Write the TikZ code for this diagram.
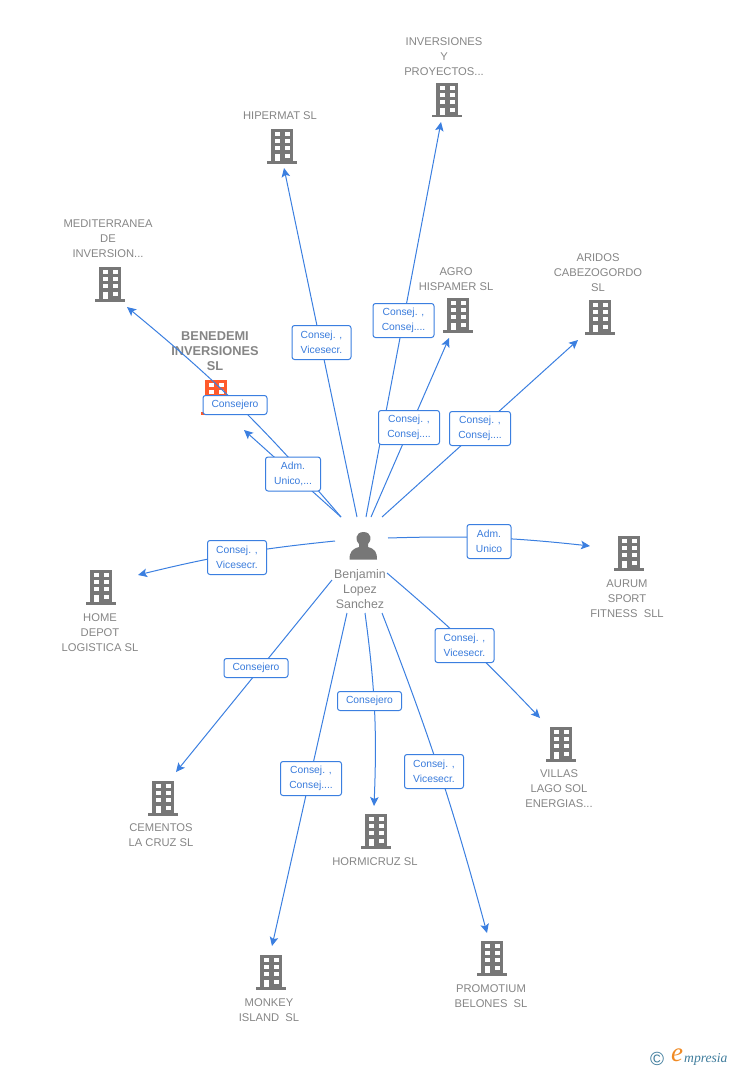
\documentclass[tikz,border=0pt]{standalone}
\usepackage{fontspec}
\setmainfont{Liberation Sans}
\newfontfamily\logofont{Liberation Serif}
\usetikzlibrary{arrows.meta}
\definecolor{linkblue}{HTML}{3B7FE0}
\definecolor{textblue}{HTML}{3A7CDC}
\definecolor{icongray}{HTML}{777777}
\definecolor{labelgray}{HTML}{858585}
\definecolor{benedemi}{HTML}{FF5A2B}
\definecolor{logoorange}{HTML}{F08A24}
\definecolor{logoblue}{HTML}{3F7C9C}
\newcommand{\threedots}{...}
\tikzstyle{edge} = [draw=linkblue,line width=1pt,-{Stealth[length=9pt,width=8.5pt,inset=2pt]}]
\tikzstyle{weight} = [draw=linkblue,fill=white,line width=1pt,rounded corners=2.5pt,align=center,text=textblue,font=\fontsize{10.3}{15}\selectfont,inner sep=0pt,minimum height=34pt]
\tikzstyle{company} = [align=center,text=labelgray,font=\fontsize{11.2}{15}\selectfont,inner sep=0pt]
\tikzset{building/.pic={
    \fill (-11,-17) rectangle (11,15);
    \fill (-15,15) rectangle (15,17.5);
    \foreach \wy in {-14,-7,0}
        \foreach \wx in {-7,3}
            \fill[white] (\wx,\wy) rectangle +(5.3,4);
    \fill[white] (-7,8) rectangle (-1.7,15);
    \fill[white] (3,8) rectangle (8.3,12);
}}

\begin{document}
\begin{tikzpicture}[x=1pt,y=-1pt]
    \useasboundingbox (0,0) rectangle (728,1070);

    % First we draw the buildings
    \foreach \pos/\name in {{(446.5,100)/inversiones}, {(282,146)/hipermat}, {(110,284)/mediterranea}, {(458,315)/agro}, {(600,317)/aridos}, {(629,553)/aurum}, {(101,587)/home}, {(163,798)/cementos}, {(376,831)/hormicruz}, {(271,972)/monkey}, {(492,958)/promotium}, {(561,744)/villas}}
        \path \pos pic[icongray] (\name) {building};
    \path (216,397) pic[benedemi] (benedemiicon) {building};

    % Then the names
    \foreach \pos/\name/\label in {{(444,56.3)/inversionestext/INVERSIONES\\Y\\PROYECTOS\threedots}, {(280,115.8)/hipermattext/HIPERMAT SL}, {(108,238.8)/mediterraneatext/MEDITERRANEA\\DE\\INVERSION\threedots}, {(456,278.8)/agrotext/AGRO\\HISPAMER SL}, {(598,272.8)/aridostext/ARIDOS\\CABEZOGORDO\\SL}, {(627,598.8)/aurumtext/AURUM\\SPORT\\FITNESS\ \ SLL}, {(100,632.8)/hometext/HOME\\DEPOT\\LOGISTICA SL}, {(161,835.3)/cementostext/CEMENTOS\\LA CRUZ SL}, {(375,861.8)/hormicruztext/HORMICRUZ SL}, {(269,1010.3)/monkeytext/MONKEY\\ISLAND\ \ SL}, {(491,996.3)/promotiumtext/PROMOTIUM\\BELONES\ \ SL}, {(559,788.8)/villastext/VILLAS\\LAGO SOL\\ENERGIAS\threedots}}
        \node[company] (\name) at \pos {\label};
    \node[company,font=\fontsize{12.8}{15}\selectfont\bfseries] (benedemitext) at (215,351.5) {BENEDEMI\\INVERSIONES\\SL};
    \node[company,font=\fontsize{12.4}{15}\selectfont] (benjamin) at (360,589.5) {Benjamin\\Lopez\\Sanchez};

    % The person
    \fill[icongray] (349.5,559.5) .. controls (349.5,552) and (352,549) .. (359,547) -- (359,544) .. controls (355,541) and (355,532) .. (363.5,532) .. controls (372,532) and (372,541) .. (368,544) -- (368,547) .. controls (375,549) and (377,552) .. (377,559.5) -- cycle;

    % Free ends of the links
    \foreach \pos/\name in {{(366,517)/s1}, {(441,122)/t1}, {(357,517)/s2}, {(284,168)/t2}, {(371,517)/s3}, {(449,338)/t3}, {(382,517)/s4}, {(578,340)/t4}, {(388,538)/s5}, {(590,546)/t5}, {(387,573)/s6}, {(540,718)/t6}, {(382,613)/s7}, {(487,933)/t7}, {(365,613)/s8}, {(374,806)/t8}, {(347,613)/s9}, {(272,946)/t9}, {(332,580)/s10}, {(176,772)/t10}, {(335,541)/s11}, {(138,575)/t11}, {(341,517)/s12}, {(244,430)/t12}, {(341,517)/s13}, {(127,307)/t13}}
        \path \pos coordinate (\name);

    % Connect them
    \foreach \source/\dest/\bend in {s1/t1/0, s2/t2/0, s3/t3/0, s4/t4/0, s5/t5/4, s6/t6/3, s7/t7/3, s8/t8/5, s9/t9/0, s10/t10/0, s11/t11/-4, s12/t12/0, s13/t13/-5}
        \path[edge] (\source) to[bend left=\bend] (\dest);

    % Boxes on the links
    \foreach \pos/\name/\wid/\label in {{(403.5,320.5)/l1/61/Consej. ,\\Consej.\threedots}, {(321.5,342.5)/l2/59/Consej. ,\\Vicesecr.}, {(409,427.5)/l3/61/Consej. ,\\Consej.\threedots}, {(480,428.5)/l4/61/Consej. ,\\Consej.\threedots}, {(489,541.5)/l5/44/Adm.\\Unico}, {(464.5,645.5)/l6/59/Consej. ,\\Vicesecr.}, {(434,771.5)/l7/59/Consej. ,\\Vicesecr.}, {(311,778.5)/l9/61/Consej. ,\\Consej.\threedots}, {(237,557.5)/l11/59/Consej. ,\\Vicesecr.}, {(293,474)/l12/55/Adm.\\Unico,\threedots}}
        \node[weight,minimum width=\wid pt] (\name) at \pos {\label};
    \foreach \pos/\name/\wid in {{(369.5,701)/l8/64}, {(256,668)/l10/64}, {(235,405)/l13/64}}
        \node[weight,minimum width=\wid pt,minimum height=19pt] (\name) at \pos {Consejero};

    % Logo
    \node[text=logoblue,font=\fontsize{19}{19}\selectfont,inner sep=0pt] (copyright) at (657,1059) {©};
    \node[text=logoorange,font=\logofont\itshape\fontsize{27}{27}\selectfont,inner sep=0pt] (logoe) at (677,1055) {e};
    \node[text=logoblue,font=\logofont\itshape\fontsize{13.6}{13.6}\selectfont,inner sep=0pt,anchor=west] (logotext) at (684,1059) {mpresia};
\end{tikzpicture}
\end{document}
